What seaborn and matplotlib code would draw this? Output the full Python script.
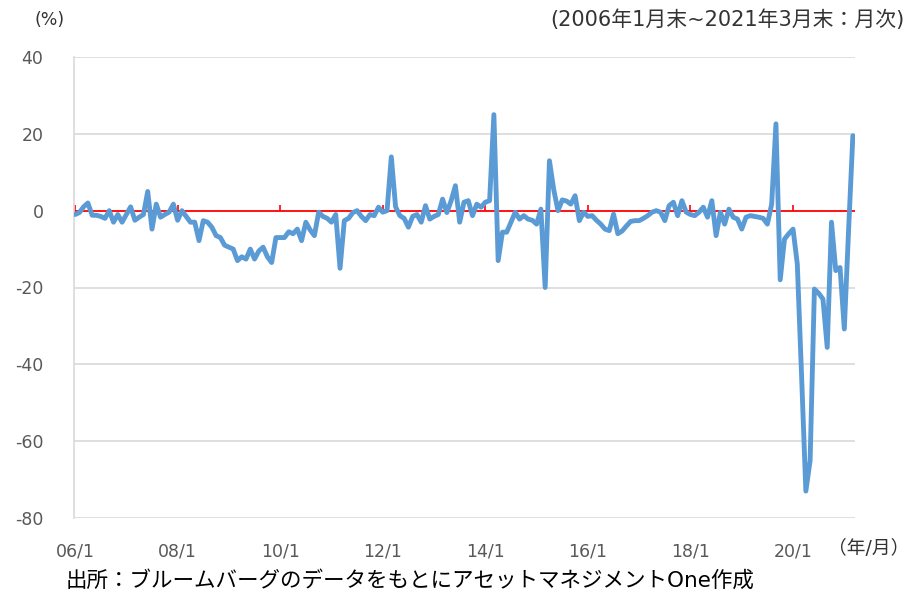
import numpy as np
import pandas as pd
import seaborn as sns
import matplotlib.pyplot as plt

# monthly % change, 2006/1 - 2021/3
y2006 = [-1, -0.5, 1, 2, -1.2, -1.2, -1.5, -2, 0, -3, -1, -3]
y2007 = [-1, 1, -2.5, -1.7, -1, 5, -4.8, 1.7, -1.7, -1, -0.4, 1.7]
y2008 = [-2.5, 0, -1.5, -3, -3, -7.8, -2.6, -3, -4.3, -6.5, -7, -9]
y2009 = [-9.5, -10, -13, -12, -12.6, -10, -12.6, -10.5, -9.5, -12, -13.5, -7]
y2010 = [-7, -7, -5.5, -6, -4.8, -7.8, -3, -5, -6.5, -0.4, -1.5, -2]
y2011 = [-3, -1, -15, -2.6, -2, -0.5, 0, -1.5, -2.6, -1, -1.3, 0.9]
y2012 = [-0.4, 0, 14, 1, -1.3, -2, -4.3, -1.5, -1, -3, 1.3, -2.2]
y2013 = [-1.5, -1, 3, -0.5, 2.6, 6.5, -3, 2.2, 2.6, -1.3, 1.7, 0.9]
y2014 = [2.2, 2.6, 25, -13, -5.6, -5.6, -3, -0.4, -2.2, -1.3, -2.2, -2.5]
y2015 = [-3.5, 0.4, -20, 13, 5.5, 0, 2.8, 2.5, 1.7, 3.9, -2.6, -0.4]
y2016 = [-1.5, -1.3, -2.5, -3.5, -4.8, -5.2, -0.9, -6, -5.3, -4, -2.8, -2.6]
y2017 = [-2.6, -2, -1.3, -0.4, 0, -0.4, -2.6, 1.3, 2.2, -1.3, 2.6, -0.4]
y2018 = [-1, -1.3, -0.4, 0.9, -1.7, 2.6, -6.5, -0.4, -3.5, 0.4, -1.7, -2.2]
y2019 = [-4.8, -1.7, -1.3, -1.5, -1.7, -2, -3.5, 1.7, 22.6, -18, -7.4, -6]
y2020 = [-4.8, -13.9, -43, -73, -65, -20.4, -21.5, -23, -35.6, -3, -15.6, -14.8]
y2021 = [-30.8, -5, 19.5]

values = (y2006 + y2007 + y2008 + y2009 + y2010 + y2011 + y2012 + y2013
          + y2014 + y2015 + y2016 + y2017 + y2018 + y2019 + y2020 + y2021)
tick_labels = ["06/1", "08/1", "10/1", "12/1", "14/1", "16/1", "18/1", "20/1"]

df = pd.DataFrame({"month": np.arange(len(values)), "value": values})

sns.set_style("white")
plt.rcParams['font.family'] = ['DejaVu Sans', 'Noto Sans CJK JP']
plt.rcParams['axes.unicode_minus'] = False

fig = plt.figure(figsize=(9.12, 5.94), dpi=100)
ax = fig.add_axes([74 / 912, 1 - 518 / 594, 781 / 912, 461 / 594])

grid_c = "#D9D9D9"
for v in [40, 20, -20, -40, -60, -80]:
    ax.axhline(v, color=grid_c, lw=1.2, zorder=1)
ax.axhline(0, color="red", lw=1.3, zorder=2)
tick_pos = np.arange(0, len(values), 24)
ax.vlines(tick_pos, 0, 1.4, color="red", lw=1.2, zorder=2)

sns.lineplot(data=df, x="month", y="value", ax=ax, color="#5B9BD5",
             lw=3.5, zorder=3, solid_joinstyle="round")

ax.set_xlim(-0.25, 182.5)
ax.set_ylim(-80, 40)
ax.set_yticks([40, 20, 0, -20, -40, -60, -80])
ax.set_xticks(tick_pos)
ax.set_xticklabels(tick_labels)
ax.tick_params(axis="both", length=0, labelsize=12.5, colors="#595959")
ax.tick_params(axis="x", pad=18)
ax.tick_params(axis="y", pad=22)
ax.set_xlabel("")
ax.set_ylabel("")

for s in ["top", "right", "bottom"]:
    ax.spines[s].set_visible(False)
ax.spines["left"].set_color(grid_c)
ax.spines["left"].set_linewidth(1.2)

fig.text(35 / 912, 1 - 20 / 594, "(%)", fontsize=12.5, color="#333333", va="center")
fig.text(905 / 912, 1 - 20 / 594, "(2006年1月末~2021年3月末：月次)", fontsize=15,
         color="#333333", va="center", ha="right")
fig.text(869 / 912, 1 - 549 / 594, "（年/月）", fontsize=13.5, color="#333333",
         va="center", ha="center")
fig.text(66 / 912, 1 - 580 / 594, "出所：ブルームバーグのデータをもとにアセットマネジメントOne作成",
         fontsize=15.5, color="black", va="center")

fig.savefig("out.png", dpi=100)
